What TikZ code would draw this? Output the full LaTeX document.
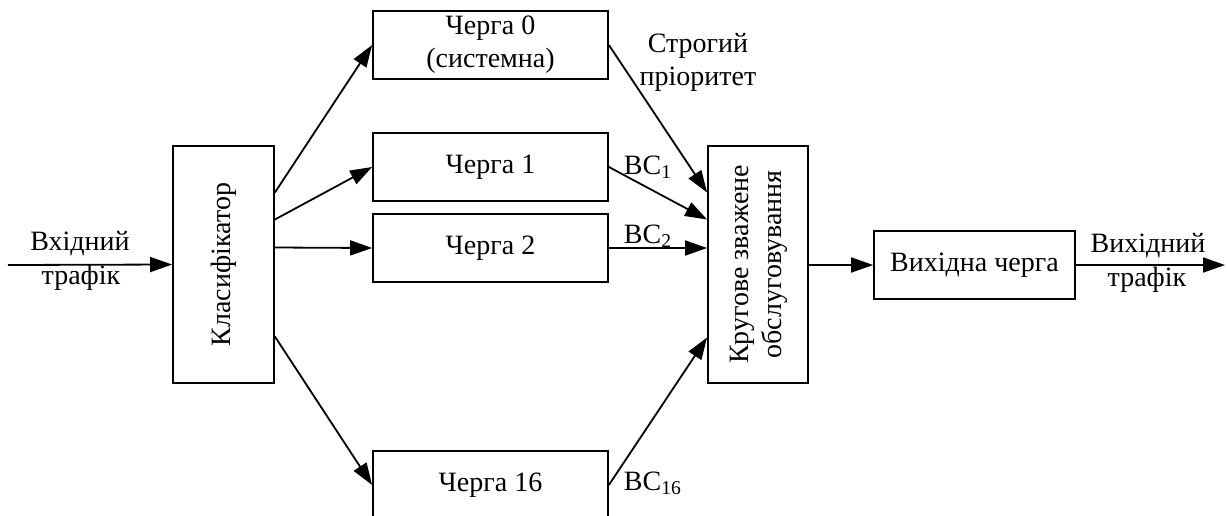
\documentclass[tikz,border=0pt]{standalone}
\usepackage{fontspec}
\setmainfont{Liberation Serif}
\usetikzlibrary{positioning,arrows.meta}

\begin{document}
\begin{tikzpicture}[
x=1pt, y=-1pt,
font=\fontsize{28}{33}\selectfont,
line width=1.8pt,
>={Triangle[length=22pt,width=15pt]},
block/.style={rectangle, draw=black, line width=1.8pt, align=center, inner sep=0pt},
queue/.style={block, minimum width=235pt, minimum height=68pt},
tall/.style={block, minimum width=101pt, minimum height=237pt},
lbl/.style={align=center, inner sep=0pt},
]
\clip (0,0) rectangle (1227,515);

% blocks
\node[tall] (cls) at (223.5,264.5) {\rotatebox{90}{Класифікатор}};
\node[queue] (q0) at (490.5,45) {Черга 0\\(системна)};
\node[queue] (q1) at (490.5,167) {Черга 1};
\node[queue] (q2) at (490.5,248) {Черга 2};
\node[queue] (q16) at (490.5,485) {Черга 16};
\node[tall, minimum width=100pt] (rr) at (758,264.5) {\rotatebox{90}{\begin{tabular}{@{}c@{}}Кругове зважене\\обслуговування\end{tabular}}};
\node[queue, minimum width=201pt] (outq) at (974.5,265) {Вихідна черга};

% input and output
\coordinate (in) at (8,265);
\coordinate (out) at (1225,265);
\node[lbl, anchor=base] (inup) at (80,250) {Вхідний};
\node[lbl, anchor=base] (indown) at (81,284) {трафік};
\node[lbl, anchor=base] (outup) at (1148,252) {Вихідний};
\node[lbl, anchor=base] (outdown) at (1147,286) {трафік};

% labels
\node[lbl] (prio) at (698,62) {Строгий\\пріоритет};
\node[lbl, anchor=base west] (bc1) at (623,174) {BC\textsubscript{1}};
\node[lbl, anchor=base west] (bc2) at (623,243) {BC\textsubscript{2}};
\node[lbl, anchor=base west] (bc16) at (623,490) {BC\textsubscript{16}};

\draw [->] (in) -- (cls.west);
\draw [->] ([yshift=72pt]cls.east) -- (q0.west);
\draw [->] ([yshift=45pt]cls.east) -- (q1.west);
\draw [->] ([yshift=17pt]cls.east) -- (q2.west);
\draw [->] ([yshift=-72pt]cls.east) -- (q16.west);

\draw [->] (q0.east) -- ([yshift=72pt]rr.west);
\draw [->] (q1.east) -- ([yshift=45pt]rr.west);
\draw [->] (q2.east) -- (q2.east -| rr.west);
\draw [->] (q16.east) -- ([yshift=-73pt]rr.west);

\draw [->] (rr.east |- outq.west) -- (outq.west);
\draw [->] (outq.east) -- (out);

\end{tikzpicture}
\end{document}
